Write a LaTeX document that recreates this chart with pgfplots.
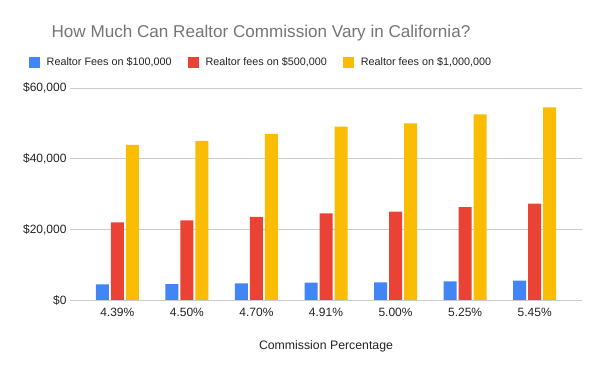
\documentclass[border=0pt]{standalone}
\usepackage{pgfplots}
\pgfplotsset{compat=1.18}
\usepackage{fontspec}
\setmainfont{Liberation Sans}
\definecolor{gblue}{HTML}{4285F4}
\definecolor{gred}{HTML}{EA4335}
\definecolor{gyellow}{HTML}{FBBC04}
\definecolor{titlegray}{HTML}{757575}
\definecolor{gridgray}{HTML}{CCCCCC}
\definecolor{textdark}{HTML}{222222}
\begin{document}
\begin{tikzpicture}
\path[use as bounding box] (0pt,0pt) rectangle (600pt,371pt);
\node[anchor=base, text=titlegray, font=\fontsize{17.1}{20}\selectfont] at (261pt,333pt) {How Much Can Realtor Commission Vary in California?};
\begin{axis}[
  at={(70pt,71pt)}, anchor=south west,
  scale only axis, width=512pt, height=212pt,
  ybar=2pt, bar width=13pt,
  xmin=-0.68, xmax=6.68, ymin=0, ymax=60000,
  xtick={0,1,2,3,4,5,6},
  xticklabels={4.39\%,4.50\%,4.70\%,4.91\%,5.00\%,5.25\%,5.45\%},
  ytick={0,20000,40000,60000},
  yticklabel={\$\pgfmathprintnumber{\tick}},
  /pgf/number format/assume math mode=true,
  /pgf/number format/1000 sep={,},
  scaled y ticks=false,
  ymajorgrids, grid style={gridgray, line width=0.6pt},
  axis line style={draw=none},
  major tick length=0pt,
  tick label style={font=\fontsize{12}{14}\selectfont, text=textdark},
  xticklabel style={yshift=-5pt},
  xlabel={Commission Percentage},
  xlabel style={font=\fontsize{12.3}{14}\selectfont, text=textdark, at={(axis description cs:0.5,0)}, anchor=base, yshift=-50pt},
  legend columns=3,
  legend style={at={(axis description cs:0.373,1.1226)}, anchor=center, draw=none, fill=none,
    font=\fontsize{10.8}{13}\selectfont, text=textdark,
    /tikz/every odd column/.append style={column sep=5pt},
    /tikz/every even column/.append style={column sep=14pt}},
  legend image code/.code={\fill[#1, draw=none] (0pt,-5.5pt) rectangle (11pt,5.5pt);},
]
\addplot[fill=gblue, draw=none] coordinates {(0,4390) (1,4500) (2,4700) (3,4910) (4,5000) (5,5250) (6,5450)};
\addplot[fill=gred, draw=none] coordinates {(0,21950) (1,22500) (2,23500) (3,24550) (4,25000) (5,26250) (6,27250)};
\addplot[fill=gyellow, draw=none] coordinates {(0,43900) (1,45000) (2,47000) (3,49100) (4,50000) (5,52500) (6,54500)};
\legend{Realtor Fees on \$100{,}000, Realtor fees on \$500{,}000, Realtor fees on \$1{,}000{,}000}
\draw[black, line width=0.8pt] (axis cs:-0.68,0) -- (axis cs:6.68,0);
\end{axis}
\end{tikzpicture}
\end{document}
